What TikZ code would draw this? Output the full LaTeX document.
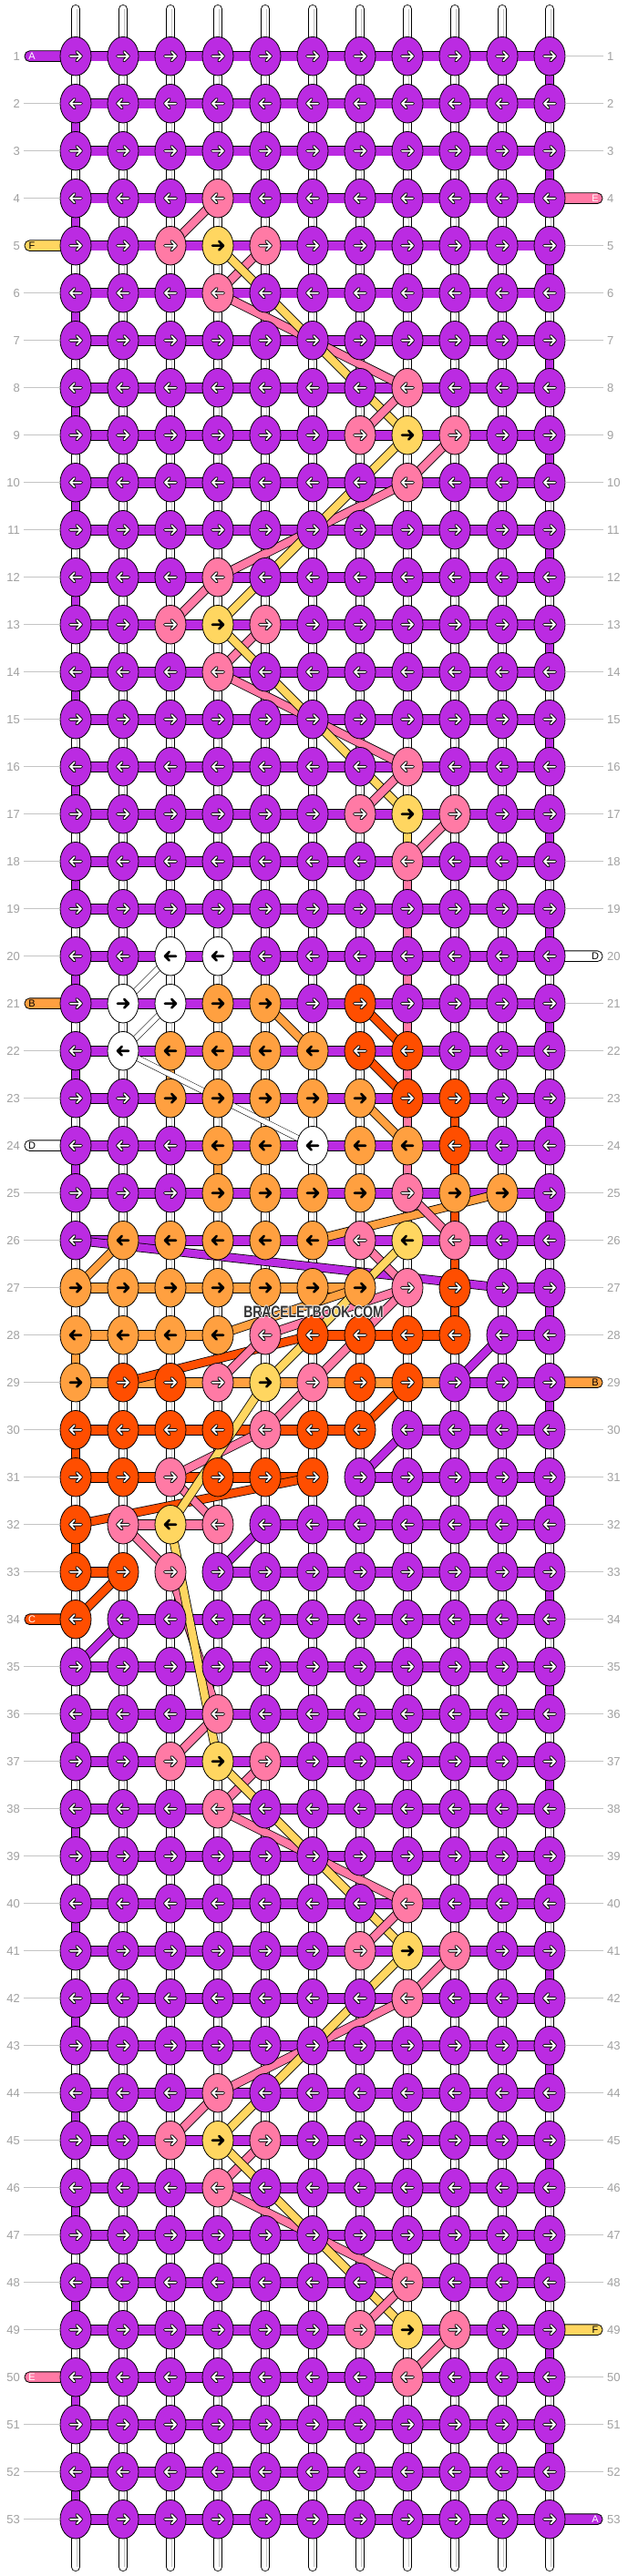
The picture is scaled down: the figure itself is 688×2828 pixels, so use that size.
\documentclass[tikz,border=0pt]{standalone}
\usepackage{graphicx}
\usepackage{fontspec}
\setmainfont{Liberation Sans}
\usetikzlibrary{positioning,shapes.geometric}

\definecolor{colP}{HTML}{BB2BE2}
\definecolor{colK}{HTML}{FF7AA5}
\definecolor{colY}{HTML}{FFD660}
\definecolor{colO}{HTML}{FFA040}
\definecolor{colR}{HTML}{FF4E00}
\definecolor{colW}{HTML}{FFFFFF}
\definecolor{numgrey}{HTML}{A0A0A0}
\definecolor{tickgrey}{HTML}{C4C4C4}
\definecolor{markgrey}{HTML}{333333}

\pgfdeclarelayer{strings}
\pgfsetlayers{strings,main}

\newcommand\setcode[2]{\expandafter\xdef\csname #1\endcsname{#2}}
\newcommand\getcode[2]{\ifcsname #1\endcsname\edef\strcode{\csname #1\endcsname}\else\edef\strcode{#2}\fi}
\def\letterW{W}
\def\letterN{N}
\def\lightY{}\def\lightO{}\def\lightW{}
\newcommand\rowy[1]{61.7+52*(#1-1)}
\newcommand\colx[1]{83+52*(#1-1)}
\newcommand\haloed[1]{\leavevmode
  \rlap{\textcolor{white}{\kern-1pt#1}}\rlap{\textcolor{white}{\kern1pt#1}}%
  \rlap{\textcolor{white}{\raisebox{1pt}{#1}}}\rlap{\textcolor{white}{\raisebox{-1pt}{#1}}}#1}

\begin{document}
\begin{tikzpicture}[x=1pt, y=-1pt,
    knot/.style={ellipse,draw=black,line width=0.8pt,minimum width=34pt,minimum height=42.5pt,inner sep=0pt},
    link/.style={draw=black,line width=0.8pt,double=col#1,double distance=8.4pt},
    bar/.style={draw=black,line width=0.8pt,double=col#1,double distance=10pt},
    band/.style={draw=black,line width=0.8pt,double=col#1,double distance=8.4pt},
    thread/.style={draw=black,line width=0.5pt,double=white,double distance=5.6pt},
    core/.style={draw=tickgrey,line width=0.4pt,double=white,double distance=2.2pt},
    tube/.style={link=W,line cap=round},
    stub/.style={draw=black,line width=0.8pt,rounded corners=5.5pt},
    stubletter/.style={font=\fontsize{11}{11}\selectfont,inner sep=0pt},
    num/.style={font=\fontsize{13}{13}\selectfont,text=numgrey,inner sep=0pt},
    tick/.style={draw=tickgrey,line width=0.8pt},
    tip/.style={line cap=round,line join=round}
    ]
    \useasboundingbox (0,0) rectangle (688,2828);

    % knot colours (purple where not listed):
    \foreach \rr/\cc/\kk in {4/4/K,5/3/K,5/4/Y,5/5/K,6/4/K,
        8/8/K,9/7/K,9/8/Y,9/9/K,10/8/K,
        12/4/K,13/3/K,13/4/Y,13/5/K,14/4/K,
        16/8/K,17/7/K,17/8/Y,17/9/K,18/8/K,
        20/3/W,20/4/W,
        21/2/W,21/3/W,21/4/O,21/5/O,21/7/R,
        22/2/W,22/3/O,22/4/O,22/5/O,22/6/O,22/7/R,22/8/R,
        23/3/O,23/4/O,23/5/O,23/6/O,23/7/O,23/8/R,23/9/R,
        24/4/O,24/5/O,24/6/W,24/7/O,24/8/O,24/9/R,
        25/4/O,25/5/O,25/6/O,25/7/O,25/8/K,25/9/O,25/10/O,
        26/2/O,26/3/O,26/4/O,26/5/O,26/6/O,26/7/K,26/8/Y,26/9/K,
        27/1/O,27/2/O,27/3/O,27/4/O,27/5/O,27/6/O,27/7/O,27/8/K,27/9/R,
        28/1/O,28/2/O,28/3/O,28/4/O,28/5/K,28/6/R,28/7/R,28/8/R,28/9/R,
        29/1/O,29/2/R,29/3/R,29/4/K,29/5/Y,29/6/K,29/7/R,29/8/R,
        30/1/R,30/2/R,30/3/R,30/4/R,30/5/K,30/6/R,30/7/R,
        31/1/R,31/2/R,31/3/K,31/4/R,31/5/R,31/6/R,
        32/1/R,32/2/K,32/3/Y,32/4/K,
        33/1/R,33/2/R,33/3/K,
        34/1/R,
        36/4/K,37/3/K,37/4/Y,37/5/K,38/4/K,
        40/8/K,41/7/K,41/8/Y,41/9/K,42/8/K,
        44/4/K,45/3/K,45/4/Y,45/5/K,46/4/K,
        48/8/K,49/7/K,49/8/Y,49/9/K,50/8/K}
      {\setcode{kc-\rr-\cc}{\kk}}

    % links between rows that are not white:
    \foreach \rr/\cc/\kk in {17/8/Y,18/8/K,19/8/K,20/8/K,21/8/K,22/8/K,23/8/K,24/8/K,
        22/3/O,24/4/O,23/9/R,24/9/R,25/9/R,26/9/R,27/9/R,
        26/1/W,28/1/O,30/1/R,32/1/R,34/1/W}
      {\setcode{vl-\rr-\cc}{\kk}}

    % bars along a row that are not purple (N = none):
    \foreach \rr/\cc/\kk in {27/1/O,27/2/O,27/3/O,27/4/O,27/5/O,27/6/O,27/7/N,27/8/N,27/9/N,
        28/1/O,28/2/O,28/3/O,28/4/N,28/5/N,28/6/R,28/7/R,28/8/R,28/9/N,
        29/1/O,29/2/O,29/3/O,29/4/O,29/5/O,29/6/O,29/7/O,29/8/O,
        30/1/R,30/2/R,30/3/R,30/4/R,30/5/R,30/6/R,30/7/N,
        31/1/R,31/2/R,31/3/R,31/4/R,31/5/R,31/6/N,
        32/1/N,32/2/K,32/3/K,32/4/N,
        33/1/R,33/2/N,33/3/N,
        34/1/N}
      {\setcode{hb-\rr-\cc}{\kk}}

    % knots:
    \foreach \rr in {1,...,53}{
      \foreach \cc in {1,...,11}{
        \getcode{kc-\rr-\cc}{P}
        \node (k\rr-\cc) at ({\colx{\cc}},{\rowy{\rr}}) [knot,fill=col\strcode] {};
        \ifodd\rr\relax \def\dir{1}\else \def\dir{-1}\fi
        \begin{scope}[shift={(k\rr-\cc.center)},xscale=\dir]
          \ifcsname light\strcode\endcsname
            \draw[tip,black,line width=2.6pt] (-6,0) -- (6,0) (1.2,-4.8) -- (6,0) -- (1.2,4.8);
          \else
            \draw[tip,black,line width=3.6pt] (-6,0) -- (6,0) (1.2,-4.8) -- (6,0) -- (1.2,4.8);
            \draw[tip,white,line width=1.8pt] (-6,0) -- (6,0) (1.2,-4.8) -- (6,0) -- (1.2,4.8);
          \fi
        \end{scope}
      }
    }

    \begin{pgfonlayer}{strings}
      % ends at top and bottom:
      \foreach \cc in {1,...,11}{
        \coordinate (top\cc) at ({\colx{\cc}},10);
        \coordinate (bot\cc) at ({\colx{\cc}},2818);
        \draw[tube] (k1-\cc.center) -- (top\cc);
        \draw[core] (k1-\cc.center) -- (top\cc);
        \draw[tube] (k53-\cc.center) -- (bot\cc);
        \draw[core] (k53-\cc.center) -- (bot\cc);
      }

      % links between rows:
      \foreach \rr [evaluate=\rr as \nn using int(\rr+1)] in {1,...,52}{
        \foreach \cc in {1,...,11}{
          \def\dflt{W}
          \ifodd\rr\relax \ifnum\cc=11 \def\dflt{P}\fi \else \ifnum\cc=1 \def\dflt{P}\fi \fi
          \getcode{vl-\rr-\cc}{\dflt}
          \draw[link=\strcode] (k\rr-\cc.center) -- (k\nn-\cc.center);
          \ifx\strcode\letterW \draw[core] (k\rr-\cc.center) -- (k\nn-\cc.center); \fi
        }
      }

      % bars along rows:
      \foreach \rr in {1,...,53}{
        \foreach \cc [evaluate=\cc as \nx using int(\cc+1)] in {1,...,10}{
          \getcode{hb-\rr-\cc}{P}
          \ifx\strcode\letterN\else \draw[bar=\strcode] (k\rr-\cc.center) -- (k\rr-\nx.center); \fi
        }
      }

      % pink and yellow zigzag:
      \foreach \ka/\kb/\kk in {4-4/5-3/K,5-5/6-4/K,
          6-4/7-6/K,7-6/8-8/K,5-4/7-6/Y,7-6/9-8/Y,
          8-8/9-7/K,9-9/10-8/K,
          10-8/11-6/K,11-6/12-4/K,9-8/11-6/Y,11-6/13-4/Y,
          12-4/13-3/K,13-5/14-4/K,
          14-4/15-6/K,15-6/16-8/K,13-4/15-6/Y,15-6/17-8/Y,
          16-8/17-7/K,17-9/18-8/K,
          36-4/37-3/K,37-5/38-4/K,
          38-4/39-6/K,39-6/40-8/K,37-4/39-6/Y,39-6/41-8/Y,
          40-8/41-7/K,41-9/42-8/K,
          42-8/43-6/K,43-6/44-4/K,41-8/43-6/Y,43-6/45-4/Y,
          44-4/45-3/K,45-5/46-4/K,
          46-4/47-6/K,47-6/48-8/K,45-4/47-6/Y,47-6/49-8/Y,
          48-8/49-7/K,49-9/50-8/K}
        {\draw[band=\kk] (k\ka.center) -- (k\kb.center);}

      % middle part:
      \foreach \ka/\kb/\kk in {21-5/22-6/O,23-7/24-8/O,25-10/26-6/O,27-7/28-4/O,
          21-7/22-8/R,22-7/23-8/R,28-6/29-2/R,29-8/30-7/R,31-6/32-1/R,33-2/34-1/R,
          26-1/27-10/P,26-2/27-1/O,28-10/29-9/P,30-8/31-7/P,32-5/33-4/P,34-2/35-1/P,
          25-8/26-9/K,26-7/27-8/K,27-8/28-5/K,27-8/29-6/K,28-5/29-4/K,29-6/30-5/K,
          30-5/31-3/K,31-3/32-4/K,32-2/33-3/K,33-3/36-4/K,
          26-8/29-5/Y,29-5/32-3/Y,32-3/37-4/Y}
        {\draw[band=\kk] (k\ka.center) -- (k\kb.center);}
      \foreach \ka/\kb in {20-3/21-2,21-3/22-2,22-2/24-6}
        {\draw[thread] (k\ka.center) -- (k\kb.center);}

      % loose ends:
      \foreach \rr/\kk in {1/P,5/Y,21/O,24/W,34/R,50/K}{
        \setcode{lstub-\rr}{y}
        \coordinate (lend\rr) at (27,{\rowy{\rr}});
        \draw[stub,fill=col\kk] ([yshift=5.85pt]lend\rr) rectangle ([yshift=-5.85pt]k\rr-1.center);
      }
      \foreach \rr/\kk in {4/K,20/W,29/O,49/Y,53/P}{
        \setcode{rstub-\rr}{y}
        \coordinate (rend\rr) at (661,{\rowy{\rr}});
        \draw[stub,fill=col\kk] ([yshift=5.85pt]k\rr-11.center) rectangle ([yshift=-5.85pt]rend\rr);
      }
    \end{pgfonlayer}

    % letters on the loose ends:
    \foreach \rr/\ll/\tc in {1/A/white,5/F/black,21/B/black,24/D/black,34/C/white,50/E/white}
      {\node (lname\rr) at (35,{\rowy{\rr}}) [stubletter,text=\tc] {\ll};}
    \foreach \rr/\ll/\tc in {4/E/white,20/D/black,29/B/black,49/F/black,53/A/white}
      {\node (rname\rr) at (653,{\rowy{\rr}}) [stubletter,text=\tc] {\ll};}

    % row numbers:
    \foreach \rr in {1,...,53}{
      \node (lnum\rr) at (22,{\rowy{\rr}}) [num,anchor=east] {\rr};
      \node (rnum\rr) at (666,{\rowy{\rr}}) [num,anchor=west] {\rr};
      \ifcsname lstub-\rr\endcsname\else \draw[tick] ([xshift=4pt]lnum\rr.east) -- (k\rr-1.west); \fi
      \ifcsname rstub-\rr\endcsname\else \draw[tick] (k\rr-11.east) -- ([xshift=-4pt]rnum\rr.west); \fi
    }

    % watermark:
    \node (mark) at (344,1440) [font=\bfseries\fontsize{18}{18}\selectfont,text=markgrey,inner sep=0pt] {\scalebox{0.77}[1]{\haloed{BRACELETBOOK.COM}}};

\end{tikzpicture}
\end{document}
